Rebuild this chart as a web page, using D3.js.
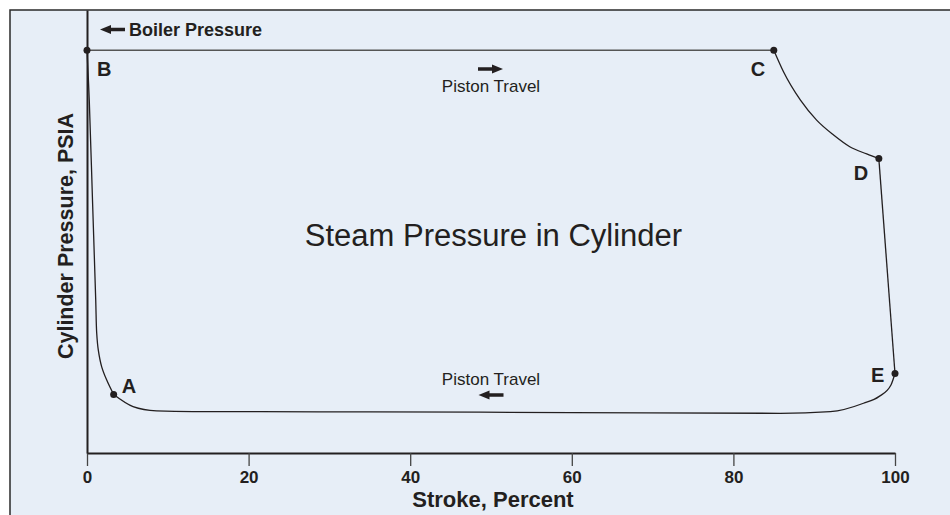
<!DOCTYPE html>
<html>
<head>
<meta charset="utf-8">
<script src="https://cdn.jsdelivr.net/npm/d3@7"></script>
<style>
  body { margin: 0; background: #fff; }
  svg { display: block; font-family: "Liberation Sans", Arial, Helvetica, sans-serif; }
</style>
</head>
<body>
<div id="viz"></div>
<script>
// stroke (%) vs cylinder pressure (PSIA)
const strokeTicks = [0, 20, 40, 60, 80, 100];
const admission = [[0, 200], [85, 200]];
const expansion = [[85, 200], [86.2, 189.3], [88.3, 175.2], [90.3, 165.3], [92.4, 157.9], [94.4, 152.1], [96.5, 148.5], [98, 146.2]];
const release = [[98, 146.2], [100, 39.5]];
const exhaust = [[100, 39.5], [99.5, 33.8], [98, 28], [96.1, 24.7], [92, 20.5], [85.8, 19.7], [60, 20.1], [35, 20.4], [21.4, 20.5], [13.1, 20.5], [8.6, 20.9], [5.7, 23], [3.3, 29]];
const compression = [[3.3, 29], [2.44, 36.2], [1.82, 42.8], [1.4, 51.1], [1.2, 59.6], [1.08, 76], [0.68, 125.6], [0.28, 175.3], [0, 200]];
const pointNames = ['A', 'B', 'C', 'D', 'E'];
const pointValues = [[3.3, 29], [0, 200], [85, 200], [98, 146.2], [100, 39.5]];

const W = 950, H = 515;
const ink = '#231f20';

const svg = d3.select('#viz').append('svg')
  .attr('width', W)
  .attr('height', H);

// panel
svg.append('rect')
  .attr('x', 10).attr('y', 10)
  .attr('width', W + 20).attr('height', H + 20)
  .attr('fill', '#e7eef7')
  .attr('stroke', '#2a2a2a')
  .attr('stroke-width', 1.5);

const x = d3.scaleLinear().domain([0, 100]).range([87, 895]);
const y = d3.scaleLinear().domain([0, 220]).range([453, 10]);

// axes
const gx = svg.append('g')
  .attr('transform', `translate(0,${y(0)})`)
  .call(d3.axisBottom(x).tickValues(strokeTicks).tickSize(13).tickSizeOuter(0).tickPadding(5));
gx.select('.domain').attr('stroke', ink).attr('stroke-width', 2);
gx.selectAll('.tick line').attr('stroke', '#444').attr('stroke-width', 1.3);
gx.selectAll('.tick text')
  .attr('font-family', '"Liberation Sans", Arial, sans-serif')
  .attr('font-size', 17).attr('font-weight', 'bold').attr('fill', ink);

const gy = svg.append('g')
  .attr('transform', `translate(${x(0)},0)`)
  .call(d3.axisLeft(y).tickValues([]).tickSizeOuter(0));
gy.select('.domain').attr('stroke', ink).attr('stroke-width', 2);

svg.append('text')
  .attr('x', (x(0) + x(100)) / 2 + 2).attr('y', 507)
  .attr('text-anchor', 'middle')
  .attr('font-size', 22).attr('font-weight', 'bold').attr('fill', ink)
  .text('Stroke, Percent');

svg.append('text')
  .attr('transform', 'translate(72.5,236) rotate(-90)')
  .attr('text-anchor', 'middle')
  .attr('font-size', 21.5).attr('font-weight', 'bold').attr('fill', ink)
  .text('Cylinder Pressure, PSIA');

// the cycle
const straight = d3.line().x(d => x(d[0])).y(d => y(d[1]));
const mono = d3.line().x(d => x(d[0])).y(d => y(d[1])).curve(d3.curveMonotoneX);
const smooth = d3.line().x(d => x(d[0])).y(d => y(d[1])).curve(d3.curveCatmullRom.alpha(0.5));

svg.append('path').datum(admission)
  .attr('d', straight).attr('fill', 'none').attr('stroke', '#555').attr('stroke-width', 1.6);
svg.append('path').datum(expansion)
  .attr('d', mono).attr('fill', 'none').attr('stroke', ink).attr('stroke-width', 1.3);
svg.append('path').datum(release)
  .attr('d', straight).attr('fill', 'none').attr('stroke', ink).attr('stroke-width', 1.3);
svg.append('path').datum(exhaust.slice().reverse())
  .attr('d', mono).attr('fill', 'none').attr('stroke', ink).attr('stroke-width', 1.3);
svg.append('path').datum(compression)
  .attr('d', smooth).attr('fill', 'none').attr('stroke', ink).attr('stroke-width', 1.3);

svg.selectAll('circle.pt')
  .data(pointValues)
  .join('circle')
  .attr('class', 'pt')
  .attr('cx', d => x(d[0])).attr('cy', d => y(d[1]))
  .attr('r', 3.5).attr('fill', ink);

// label offsets from each point
const labelOffset = { A: [8, -2], B: [10, 26], C: [-23, 26], D: [-25, 21], E: [-24, 9] };
svg.selectAll('text.pt')
  .data(pointNames)
  .join('text')
  .attr('class', 'pt')
  .attr('x', (d, i) => x(pointValues[i][0]) + labelOffset[d][0])
  .attr('y', (d, i) => y(pointValues[i][1]) + labelOffset[d][1])
  .attr('font-size', 20).attr('font-weight', 'bold').attr('fill', ink)
  .text(d => d);

// arrows
function arrow(cx, cy, dir) {
  const len = 25, head = 11, hh = 4.5, sh = 1.8;
  const tip = cx + dir * len / 2, tail = cx - dir * len / 2, base = tip - dir * head;
  const p = d3.path();
  p.moveTo(tip, cy);
  p.lineTo(base, cy - hh);
  p.lineTo(base, cy - sh);
  p.lineTo(tail, cy - sh);
  p.lineTo(tail, cy + sh);
  p.lineTo(base, cy + sh);
  p.lineTo(base, cy + hh);
  p.closePath();
  svg.append('path').attr('d', p.toString()).attr('fill', ink);
}

arrow(112.5, 29.5, -1);
svg.append('text')
  .attr('x', 129).attr('y', 36)
  .attr('font-size', 18).attr('font-weight', 'bold').attr('fill', ink)
  .text('Boiler Pressure');

arrow(x(50) - 0.5, 69, 1);
svg.append('text')
  .attr('x', x(50)).attr('y', 92)
  .attr('text-anchor', 'middle')
  .attr('font-size', 17).attr('fill', ink)
  .text('Piston Travel');

svg.append('text')
  .attr('x', x(50)).attr('y', 385)
  .attr('text-anchor', 'middle')
  .attr('font-size', 17).attr('fill', ink)
  .text('Piston Travel');
arrow(x(50), 395, -1);

svg.append('text')
  .attr('x', x(50) + 2.5).attr('y', 246)
  .attr('text-anchor', 'middle')
  .attr('font-size', 31).attr('fill', ink)
  .text('Steam Pressure in Cylinder');
</script>
</body>
</html>
